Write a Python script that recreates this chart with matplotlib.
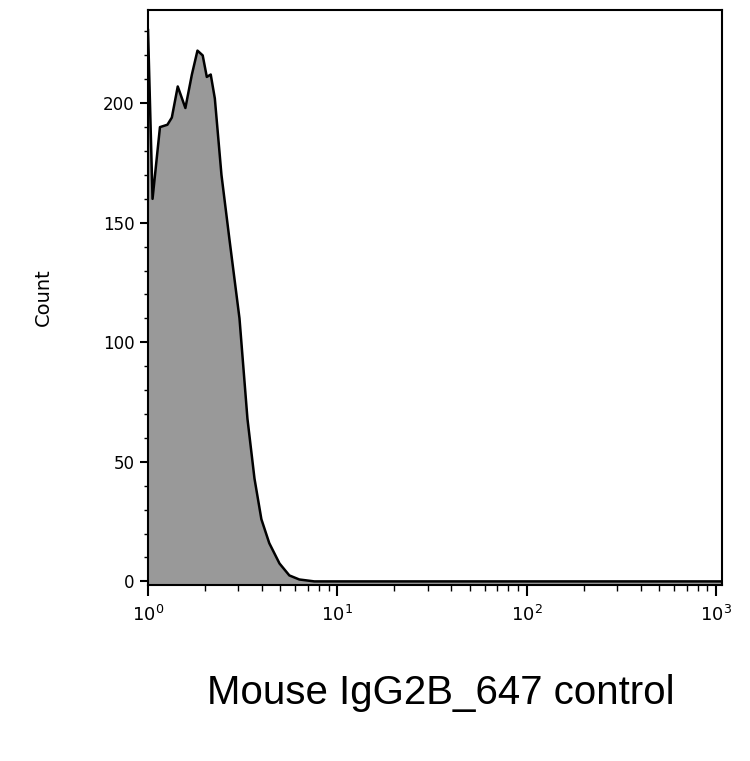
import matplotlib
matplotlib.use("Agg")
import matplotlib.pyplot as plt
from matplotlib.ticker import FixedLocator, NullFormatter

x_vals = [1.0, 1.003, 1.06, 1.16, 1.27, 1.34, 1.44, 1.58, 1.71, 1.83, 1.95, 2.05, 2.15, 2.26, 2.45,
          2.70, 3.05, 3.36, 3.66, 3.98, 4.38, 4.96, 5.59, 6.31, 7.57, 20, 100, 1070]
counts = [231, 231, 160, 190, 191, 194, 207, 198, 212, 222, 220, 211, 212, 202, 170,
          143, 110, 68, 43, 26, 16, 7.5, 2.5, 0.8, 0, 0, 0, 0]
y_ticks = [0, 50, 100, 150, 200]

fig = plt.figure(figsize=(7.5, 7.61), dpi=100)
ax = fig.add_axes([0.197, 0.2313, 0.7653, 0.7556])
ax.fill_between(x_vals, counts, -5, color="#999999", linewidth=0)
ax.plot(x_vals, counts, color="black", linewidth=1.8)
ax.set_xscale("log")
ax.set_xlim(1, 10**3.03)
ax.set_ylim(-1.5, 239)
ax.set_yticks(y_ticks)
ax.yaxis.set_minor_locator(FixedLocator(list(range(0, 240, 10))))
ax.tick_params(axis="y", which="major", length=6, width=1.5, labelsize=12, direction="out")
ax.tick_params(axis="y", which="minor", length=3, width=1)
ax.tick_params(axis="x", which="major", length=8, width=1.5, labelsize=13, pad=6)
ax.tick_params(axis="x", which="minor", length=4, width=1)
ax.xaxis.set_minor_formatter(NullFormatter())
for s in ax.spines.values():
    s.set_linewidth(1.5)
ax.set_ylabel("Count", fontsize=14, labelpad=36)
ax.set_xlabel("Mouse IgG2B_647 control", fontsize=29, labelpad=40, fontfamily="Liberation Sans")
ax.xaxis.set_label_coords(0.51, -0.155)
fig.savefig("out.png", dpi=100)
